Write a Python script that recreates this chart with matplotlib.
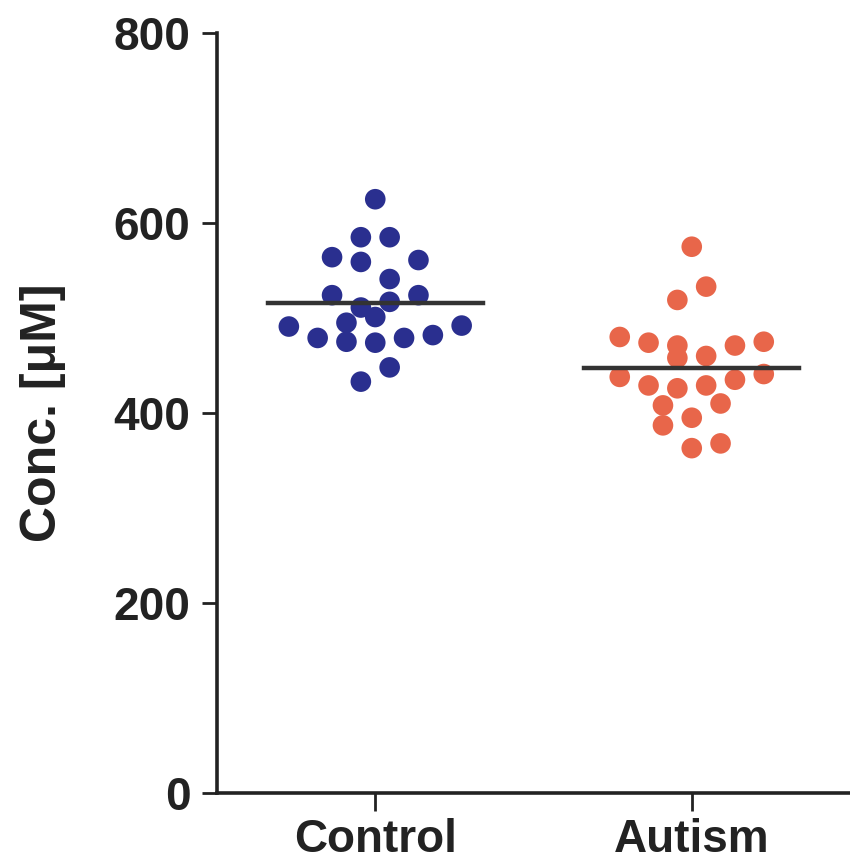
import numpy as np
import matplotlib.pyplot as plt

# categories and values
groups = ['Control', 'Autism']
colors = ['#2a2f8f', '#e8664a']

control_vals = [625, 585, 585, 564, 559, 561, 541, 524, 524, 517, 511,
                501, 495, 491, 492, 479, 475, 474, 479, 482, 448, 433]
# horizontal beeswarm slot of each point (in steps)
control_slot = [0, -1, 1, -3, -1, 3, 1, -3, 3, 1, -1,
                0, -2, -6, 6, -4, -2, 0, 2, 4, 1, -1]

autism_vals = [575, 533, 519, 480, 474, 471, 460, 458, 471, 475,
               438, 429, 426, 429, 435, 441, 408, 410, 395, 387, 363, 368]
autism_slot = [0, 1, -1, -5, -3, -1, 1, -1, 3, 5,
               -5, -3, -1, 1, 3, 5, -2, 2, 0, -2, 0, 2]

values = [control_vals, autism_vals]
slots = [control_slot, autism_slot]
step = 0.0455

plt.rcParams['font.family'] = ['Liberation Sans', 'DejaVu Sans']
plt.rcParams['font.weight'] = 'bold'

fig = plt.figure(figsize=(8.5, 8.63), dpi=100)
ax = fig.add_axes([0.2553, 0.0811, 0.7447, 0.8807])

for i, (vals, sl) in enumerate(zip(values, slots)):
    xs = i + 1 + np.array(sl) * step
    ax.scatter(xs, vals, s=220, color=colors[i], edgecolors='none', zorder=3)
    ax.plot([i + 1 - 0.34, i + 1 + 0.34], [np.mean(vals)] * 2,
            color='#333333', lw=3.2, zorder=4)

ax.set_xlim(0.5, 2.5)
ax.set_ylim(0, 800)
ax.set_yticks([0, 200, 400, 600, 800])
ax.set_xticks([1, 2])
ax.set_xticklabels(groups)
ax.spines['top'].set_visible(False)
ax.spines['right'].set_visible(False)
for s in ['left', 'bottom']:
    ax.spines[s].set_linewidth(2.6)
    ax.spines[s].set_color('#222222')
ax.tick_params(axis='y', length=11, width=2, pad=8, labelsize=33, colors='#222222')
ax.tick_params(axis='x', length=13, width=2, pad=5, labelsize=33, colors='#222222')
ax.set_ylabel('Conc. [μM]', fontsize=36, fontweight='bold', color='#222222')
ax.yaxis.set_label_coords(-0.238, 0.5)

plt.savefig('out.png', dpi=100)
